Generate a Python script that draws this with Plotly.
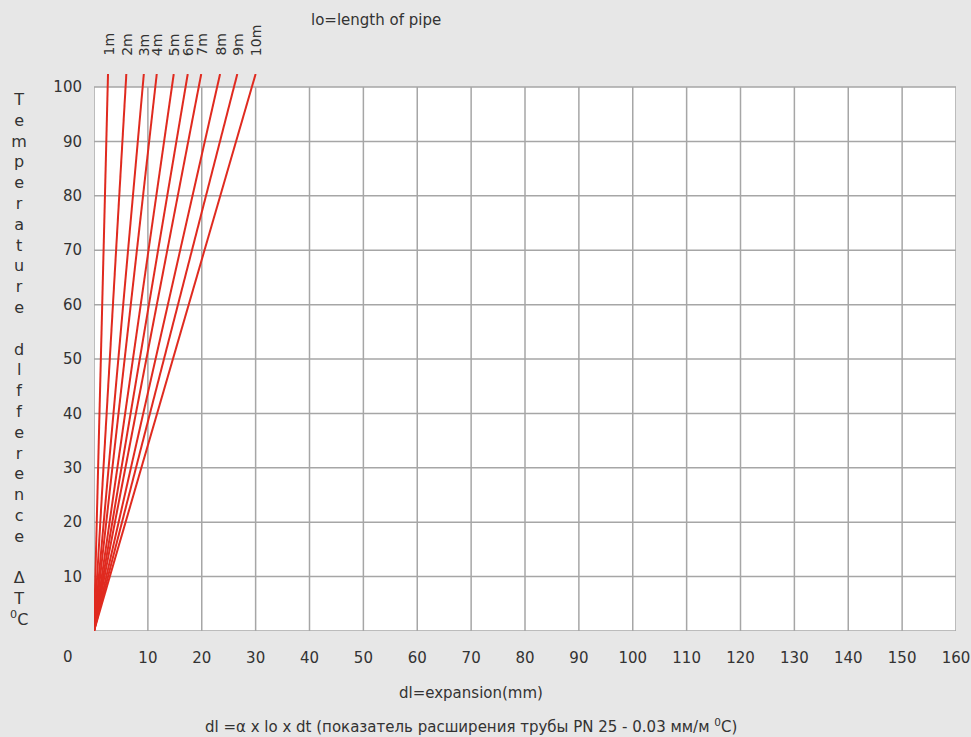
import plotly.graph_objects as go

# ---- data ----
lengths = ["1m", "2m", "3m", "4m", "5m", "6m", "7m", "8m", "9m", "10m"]
dt_top = 102.4  # temperature difference at the upper end of each drawn line
dl_top = [2.6, 6.0, 9.25, 11.65, 14.8, 17.4, 19.9, 23.4, 26.6, 30.0]  # expansion (mm) at dt_top
x_ticks = [10, 20, 30, 40, 50, 60, 70, 80, 90, 100, 110, 120, 130, 140, 150, 160]
y_ticks = [10, 20, 30, 40, 50, 60, 70, 80, 90, 100]
y_title_letters = ["T", "e", "m", "p", "e", "r", "a", "t", "u", "r", "e", " ",
                   "d", "l", "f", "f", "e", "r", "e", "n", "c", "e", " ",
                   "Δ", "T", "<sup>0</sup>C"]

FONT = "DejaVu Sans"
TXT = "#333333"
GRID = "#a6a6a6"
BG = "#e7e7e7"
RED = "#e02a1f"

W, H = 971, 737
L, R, T, B = 94, 15, 74, 106
PW, PH = W - L - R, H - T - B


def xp(px):
    return (px - L) / PW


def yp(py):
    return (H - B - py) / PH


fig = go.Figure()

for name, dl in zip(lengths, dl_top):
    fig.add_trace(go.Scatter(x=[0, dl], y=[0, dt_top], mode="lines",
                             line=dict(color=RED, width=2), name=name,
                             showlegend=False, hoverinfo="skip"))

xmax = x_ticks[-1]
ymax = y_ticks[-1]
shapes = [dict(type="rect", xref="x", yref="y", x0=0, y0=0, x1=xmax, y1=ymax,
               fillcolor="white", line=dict(color=GRID, width=1.5), layer="below")]
for v in x_ticks[:-1]:
    shapes.append(dict(type="line", xref="x", yref="y", x0=v, x1=v, y0=0, y1=ymax,
                       line=dict(color=GRID, width=1.5), layer="below"))
for h in y_ticks[:-1]:
    shapes.append(dict(type="line", xref="x", yref="y", x0=0, x1=xmax, y0=h, y1=h,
                       line=dict(color=GRID, width=1.5), layer="below"))

annotations = []
for name, dl in zip(lengths, dl_top):
    annotations.append(dict(x=dl, y=1, xref="x", yref="paper", text=name,
                            textangle=-90, showarrow=False, xanchor="center",
                            yanchor="bottom", yshift=16,
                            font=dict(family=FONT, size=14, color=TXT)))
annotations.append(dict(x=0, y=0, xref="x", yref="y", text="0", showarrow=False,
                        xanchor="center", yanchor="middle", xshift=-26, yshift=-26,
                        font=dict(family=FONT, size=15, color=TXT)))
annotations.append(dict(x=xp(376), y=yp(20), xref="paper", yref="paper",
                        text="lo=length of pipe", showarrow=False,
                        xanchor="center", yanchor="middle",
                        font=dict(family=FONT, size=15, color=TXT)))
annotations.append(dict(x=xp(471), y=yp(693), xref="paper", yref="paper",
                        text="dl=expansion(mm)", showarrow=False,
                        xanchor="center", yanchor="middle",
                        font=dict(family=FONT, size=15, color=TXT)))
annotations.append(dict(x=xp(471), y=yp(726), xref="paper", yref="paper",
                        text="dl =α x lo x dt (показатель расширения трубы PN 25 - 0.03 мм/м <sup>0</sup>C)",
                        showarrow=False, xanchor="center", yanchor="middle",
                        font=dict(family=FONT, size=15, color=TXT)))
annotations.append(dict(x=xp(19), y=yp(359.5), xref="paper", yref="paper",
                        text="<br>".join(y_title_letters), showarrow=False,
                        xanchor="center", yanchor="middle", align="center",
                        font=dict(family=FONT, size=16, color=TXT)))

fig.update_layout(
    width=W, height=H,
    margin=dict(l=L, r=R, t=T, b=B, autoexpand=False),
    paper_bgcolor=BG, plot_bgcolor=BG,
    font=dict(family=FONT, size=15, color=TXT),
    shapes=shapes, annotations=annotations,
    xaxis=dict(range=[0, xmax], tickmode="array", tickvals=x_ticks,
               ticktext=[str(v) for v in x_ticks], showgrid=False, zeroline=False,
               showline=False, ticks="outside", ticklen=13, tickcolor="rgba(0,0,0,0)",
               automargin=False,
               tickfont=dict(family=FONT, size=15, color=TXT)),
    yaxis=dict(range=[0, dt_top], tickmode="array", tickvals=y_ticks,
               ticktext=[str(v) for v in y_ticks], showgrid=False, zeroline=False,
               showline=False, ticks="outside", ticklen=8, tickcolor="rgba(0,0,0,0)",
               automargin=False,
               tickfont=dict(family=FONT, size=15, color=TXT)),
)

fig.write_html("out.html", config={"displayModeBar": False},
               post_script="document.body.style.margin='0';")
